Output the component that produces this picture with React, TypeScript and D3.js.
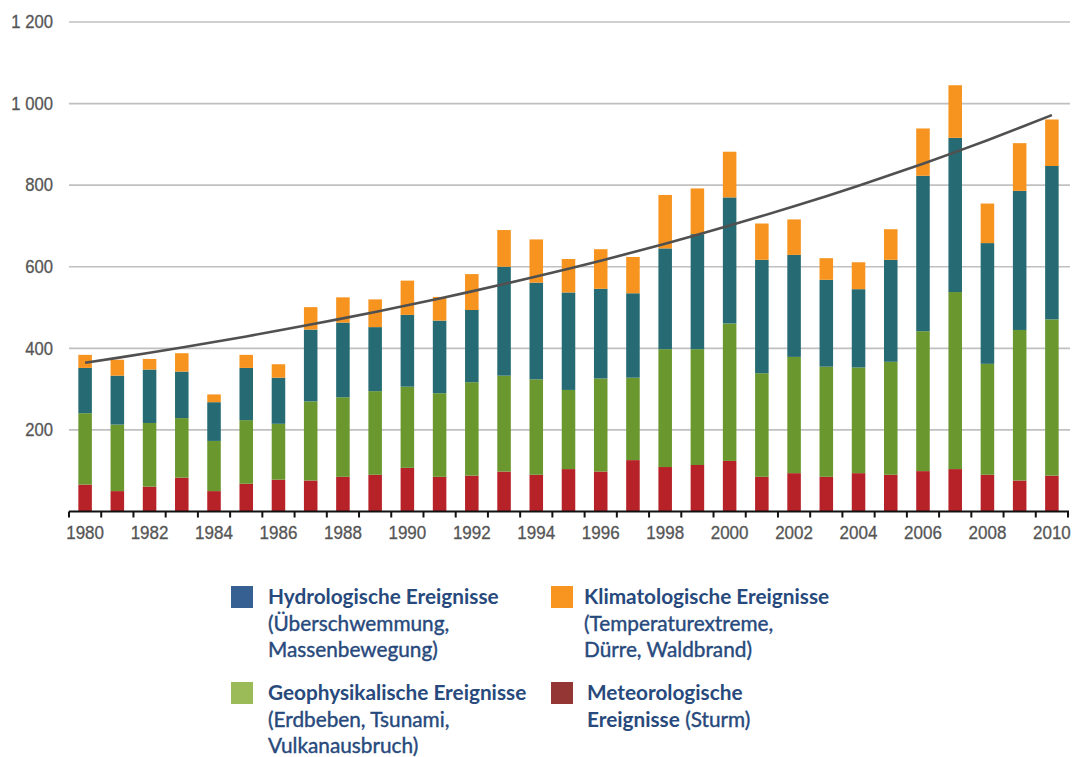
import React from "react";
import * as d3 from "d3";

const years = [1980, 1981, 1982, 1983, 1984, 1985, 1986, 1987, 1988, 1989, 1990, 1991, 1992, 1993, 1994, 1995, 1996, 1997, 1998, 1999, 2000, 2001, 2002, 2003, 2004, 2005, 2006, 2007, 2008, 2009, 2010];

// Meteorologische Ereignisse (Sturm) – bottom segment
const meteorological = [66, 50, 61, 83, 50, 68, 78, 76, 85, 90, 107, 85, 88, 98, 90, 104, 98, 126, 109, 114, 124, 85, 94, 85, 94, 90, 99, 104, 90, 76, 88];
// Geophysikalische Ereignisse
const geophysical = [175, 163, 156, 146, 123, 156, 137, 194, 195, 205, 199, 205, 229, 235, 234, 194, 228, 202, 289, 284, 337, 254, 285, 270, 259, 277, 343, 434, 272, 369, 383];
// Hydrologische Ereignisse
const hydrological = [111, 120, 131, 114, 95, 128, 113, 176, 183, 157, 176, 178, 177, 267, 237, 239, 220, 207, 247, 282, 309, 278, 250, 213, 192, 250, 381, 378, 296, 341, 376];
// Klimatologische Ereignisse
const climatological = [32, 39, 26, 45, 19, 32, 33, 55, 62, 68, 84, 58, 88, 90, 106, 82, 97, 89, 131, 112, 112, 89, 87, 53, 66, 75, 116, 129, 97, 117, 114];

const yTicks = [200, 400, 600, 800, 1000, 1200];
const yTickLabels = ["200", "400", "600", "800", "1 000", "1 200"];
const xTickYears = [1980, 1982, 1984, 1986, 1988, 1990, 1992, 1994, 1996, 1998, 2000, 2002, 2004, 2006, 2008, 2010];

const seriesKeys = ["meteorological", "geophysical", "hydrological", "climatological"];
const barColors = ["#b72228", "#6a982f", "#266b73", "#f6941f"];

const legendItems = [
  { color: "#366092", title: ["Hydrologische Ereignisse"], sub: ["(Überschwemmung,", "Massenbewegung)"], col: 0, row: 0 },
  { color: "#f79520", title: ["Klimatologische Ereignisse"], sub: ["(Temperaturextreme,", "Dürre, Waldbrand)"], col: 1, row: 0 },
  { color: "#9bbb59", title: ["Geophysikalische Ereignisse"], sub: ["(Erdbeben, Tsunami,", "Vulkanausbruch)"], col: 0, row: 1 },
  { color: "#943634", title: ["Meteorologische", "Ereignisse"], sub: [" (Sturm)"], col: 1, row: 1 },
];

const W = 1076;
const H = 757;

export default function App() {
  const x = d3.scaleBand<number>().domain(years).range([69, 1068]).paddingInner(0.58).paddingOuter(0.29);
  const y = d3.scaleLinear().domain([0, 1200]).range([511.5, 22]);

  const table = years.map((yr, i) => ({
    year: yr,
    meteorological: meteorological[i],
    geophysical: geophysical[i],
    hydrological: hydrological[i],
    climatological: climatological[i],
  }));
  const stacked = d3.stack<any>().keys(seriesKeys)(table);

  // exponential trend line (least squares on ln of totals)
  const totals = table.map((d) => d.meteorological + d.geophysical + d.hydrological + d.climatological);
  const ts = years.map((_, i) => i);
  const lnY = totals.map((v) => Math.log(v));
  const tMean = d3.mean(ts)!;
  const lMean = d3.mean(lnY)!;
  const b = d3.sum(ts.map((t, i) => (t - tMean) * (lnY[i] - lMean))) / d3.sum(ts.map((t) => (t - tMean) ** 2));
  const a = lMean - b * tMean;
  const trendPts: [number, number][] = ts.map((t, i) => [x(years[i])! + x.bandwidth() / 2, y(Math.exp(a + b * t))]);
  const line = d3.line().curve(d3.curveMonotoneX);

  const axisY = y(0);
  const tickXs = years.map((yr) => x(yr)! - (x.step() - x.bandwidth()) / 2).concat([1068]);

  const legendX = [231, 551];
  const legendTextX = [268, 584];
  const legendY = [586, 682];
  const lineH = 26.5;
  const legendColor = "#27497c";
  const lf = "Lato, 'Open Sans', sans-serif";
  const af = "'Liberation Sans', Arial, sans-serif";

  return (
    <svg width={W} height={H} style={{ position: "absolute", left: 0, top: 0, background: "#fff" }}>
      {/* gridlines */}
      {yTicks.map((t) => (
        <line key={t} x1={69} x2={1070} y1={y(t)} y2={y(t)} stroke="#c0c0c0" strokeWidth={1.6} />
      ))}
      {/* y labels */}
      {yTicks.map((t, i) => (
        <text
          key={"yl" + t}
          transform={`translate(53,${y(t)}) scale(0.9,1)`}
          textAnchor="end"
          dominantBaseline="central"
          fontFamily={af}
          fontSize={18.5}
          fill="#555"
          stroke="#555"
          strokeWidth={0.3}
        >
          {yTickLabels[i]}
        </text>
      ))}
      {/* bars */}
      {stacked.map((s, si) => (
        <g key={s.key} fill={barColors[si]}>
          {s.map((d, i) => (
            <rect key={i} x={x(years[i])} width={x.bandwidth()} y={y(d[1])} height={y(d[0]) - y(d[1])} />
          ))}
        </g>
      ))}
      {/* axis */}
      <line x1={69} x2={1069} y1={axisY} y2={axisY} stroke="#111" strokeWidth={2} />
      {tickXs.map((tx, i) => (
        <line key={"tk" + i} x1={tx} x2={tx} y1={axisY} y2={axisY + 6} stroke="#111" strokeWidth={2} />
      ))}
      {xTickYears.map((yr) => (
        <text
          key={"xl" + yr}
          transform={`translate(${x(yr)! + x.bandwidth() / 2},538.5) scale(0.92,1)`}
          textAnchor="middle"
          fontFamily={af}
          fontSize={18.5}
          fill="#555"
          stroke="#555"
          strokeWidth={0.3}
        >
          {yr}
        </text>
      ))}
      {/* trend */}
      <path d={line(trendPts) || ""} fill="none" stroke="#505050" strokeWidth={2.6} />
      {/* legend */}
      {legendItems.map((it, k) => {
        const sx = legendX[it.col];
        const sy = legendY[it.row];
        const tx = legendTextX[it.col] + (it.row === 1 && it.col === 1 ? 3 : 0);
        const base = sy + 18;
        const lines: { bold: string; reg: string }[] = [];
        if (it.title.length === 1) {
          lines.push({ bold: it.title[0], reg: "" });
          it.sub.forEach((s) => lines.push({ bold: "", reg: s }));
        } else {
          lines.push({ bold: it.title[0], reg: "" });
          lines.push({ bold: it.title[1], reg: it.sub[0] });
        }
        return (
          <g key={"lg" + k}>
            <rect x={sx} y={sy} width={22} height={22} fill={it.color} />
            {lines.map((ln, li) => (
              <text
                key={li}
                transform={`translate(${tx},${base + li * lineH}) scale(0.99,1)`}
                fontFamily={lf}
                fontSize={21}
                fill={legendColor}
              >
                {ln.bold && <tspan fontWeight={700}>{ln.bold}</tspan>}
                {ln.reg && (
                  <tspan fontWeight={400} stroke={legendColor} strokeWidth={0.4}>
                    {ln.reg}
                  </tspan>
                )}
              </text>
            ))}
          </g>
        );
      })}
    </svg>
  );
}
